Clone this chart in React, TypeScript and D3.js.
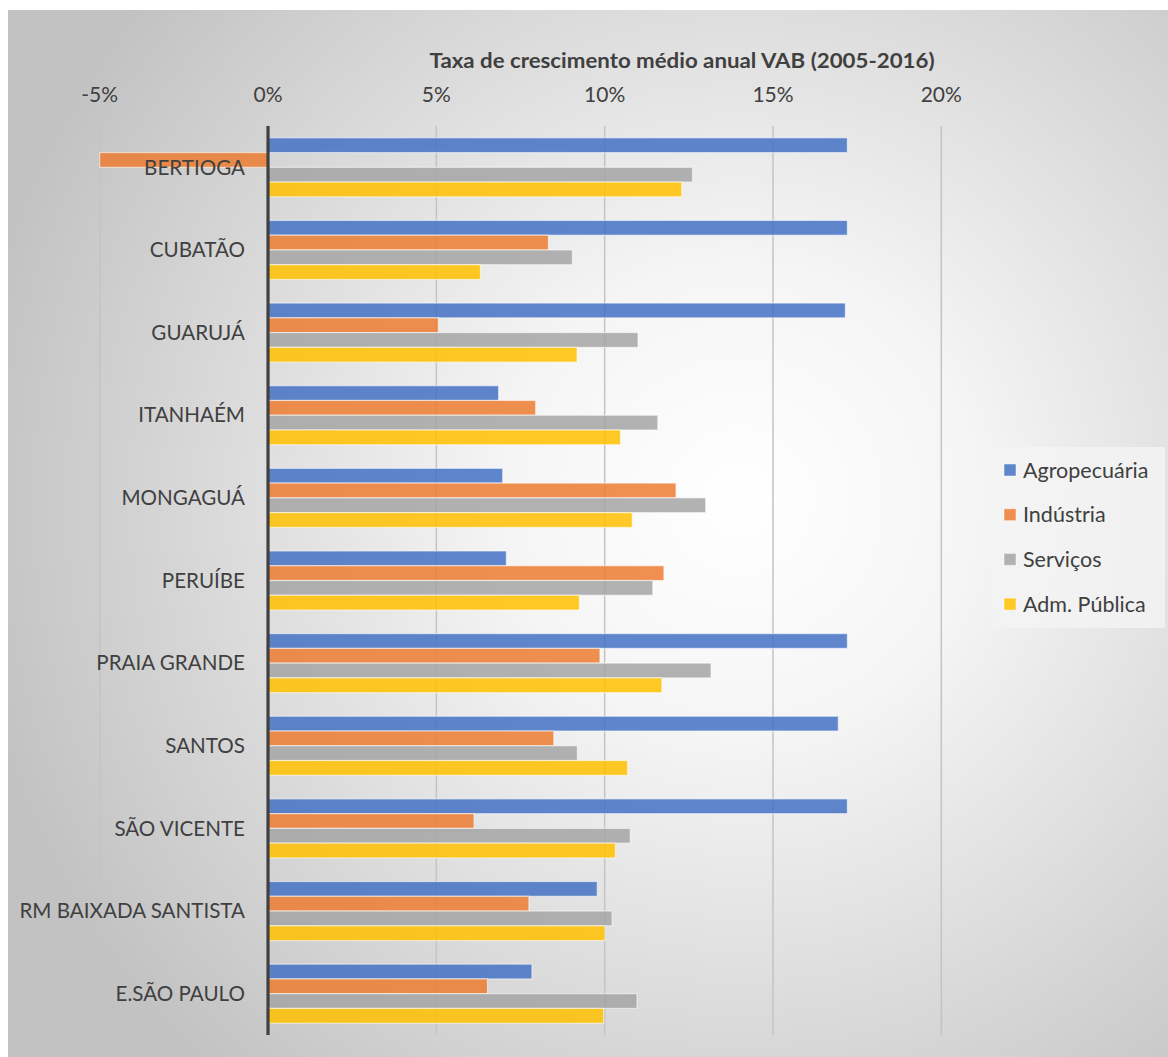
import React from "react";
import * as d3 from "d3";

const categories = [
  "BERTIOGA", "CUBATÃO", "GUARUJÁ", "ITANHAÉM", "MONGAGUÁ", "PERUÍBE",
  "PRAIA GRANDE", "SANTOS", "SÃO VICENTE", "RM BAIXADA SANTISTA", "E.SÃO PAULO",
];
const seriesNames = ["Agropecuária", "Indústria", "Serviços", "Adm. Pública"];
const seriesColors = ["#4472C4", "#ED7D31", "#A5A5A5", "#FFC000"];

const agropecuaria = [17.21, 17.21, 17.15, 6.85, 6.97, 7.08, 17.21, 16.94, 17.21, 9.78, 7.84];
const industria = [-5.0, 8.33, 5.06, 7.95, 12.12, 11.76, 9.86, 8.49, 6.12, 7.75, 6.52];
const servicos = [12.61, 9.04, 10.99, 11.58, 13.0, 11.43, 13.16, 9.19, 10.76, 10.22, 10.96];
const admPublica = [12.29, 6.31, 9.18, 10.47, 10.82, 9.25, 11.7, 10.68, 10.32, 10.01, 9.97];
const seriesValues = [agropecuaria, industria, servicos, admPublica];

const tickValues = [-5, 0, 5, 10, 15, 20];
const title = "Taxa de crescimento médio anual VAB (2005-2016)";

const FONT = "Lato, 'Open Sans', sans-serif";
const TXT = "#404040";

export default function App() {
  const x = d3.scaleLinear().domain([-5, 20]).range([99.7, 941.3]);
  const y = d3.scaleBand<string>().domain(categories).range([126, 1035]).paddingInner(0).paddingOuter(0);
  const sub = d3.scaleBand<string>().domain(seriesNames).range([0, y.bandwidth()]).paddingInner(0).paddingOuter(0.8);

  return (
    <svg width={1168} height={1057} style={{ position: "absolute", left: 0, top: 0 }}>
      <defs>
        <radialGradient id="bg" gradientUnits="userSpaceOnUse" cx={740} cy={500} r={780}>
          <stop offset="0" stopColor="#ffffff" />
          <stop offset="0.3" stopColor="#f5f5f5" />
          <stop offset="1" stopColor="#c2c2c2" />
        </radialGradient>
      </defs>
      <rect x={0} y={0} width={1168} height={1057} fill="#ffffff" />
      <rect x={8} y={10} width={1160} height={1047} fill="url(#bg)" />

      <text x={682} y={68} textAnchor="middle" fontFamily={FONT} fontWeight="bold" fontSize={21}
        textLength={505} lengthAdjust="spacingAndGlyphs" fill={TXT}>
        {title}
      </text>

      {tickValues.map((t) => (
        <g key={t}>
          <text x={x(t)} y={102} textAnchor="middle" fontFamily={FONT} fontSize={21} fill={TXT}>
            {`${t}%`}
          </text>
          {t !== 0 && (
            <line x1={x(t)} x2={x(t)} y1={126} y2={1035} stroke="#c4c4c4" strokeWidth={1.5} />
          )}
        </g>
      ))}

      {categories.map((c, i) => (
        <g key={c}>
          {seriesNames.map((s, j) => {
            const v = seriesValues[j][i];
            const x0 = x(Math.min(0, v));
            const x1 = x(Math.max(0, v));
            return (
              <rect
                key={s}
                x={x0}
                y={(y(c) as number) + (sub(s) as number)}
                width={x1 - x0}
                height={sub.bandwidth()}
                fill={seriesColors[j]}
                fillOpacity={0.85}
                stroke="#ffffff"
                strokeOpacity={0.55}
                strokeWidth={1.2}
              />
            );
          })}
          <text
            x={245}
            y={(y(c) as number) + y.bandwidth() / 2}
            dy="0.35em"
            textAnchor="end"
            fontFamily={FONT}
            fontSize={20.6}
            fill={TXT}
          >
            {c}
          </text>
        </g>
      ))}

      <line x1={x(0)} x2={x(0)} y1={126} y2={1035} stroke="#404040" strokeWidth={3.2} />

      <rect x={993} y={447} width={172} height={181} fill="#f4f4f4" fillOpacity={0.8} />
      {seriesNames.map((s, j) => (
        <g key={s} transform={`translate(1004, ${470 + j * 44.7})`}>
          <rect x={0} y={-6} width={12} height={12} fill={seriesColors[j]} fillOpacity={0.85} stroke="#ffffff" strokeOpacity={0.5} />
          <text x={19} y={0} dy="0.35em" fontFamily={FONT} fontSize={21.5} fill={TXT}>
            {s}
          </text>
        </g>
      ))}
    </svg>
  );
}
